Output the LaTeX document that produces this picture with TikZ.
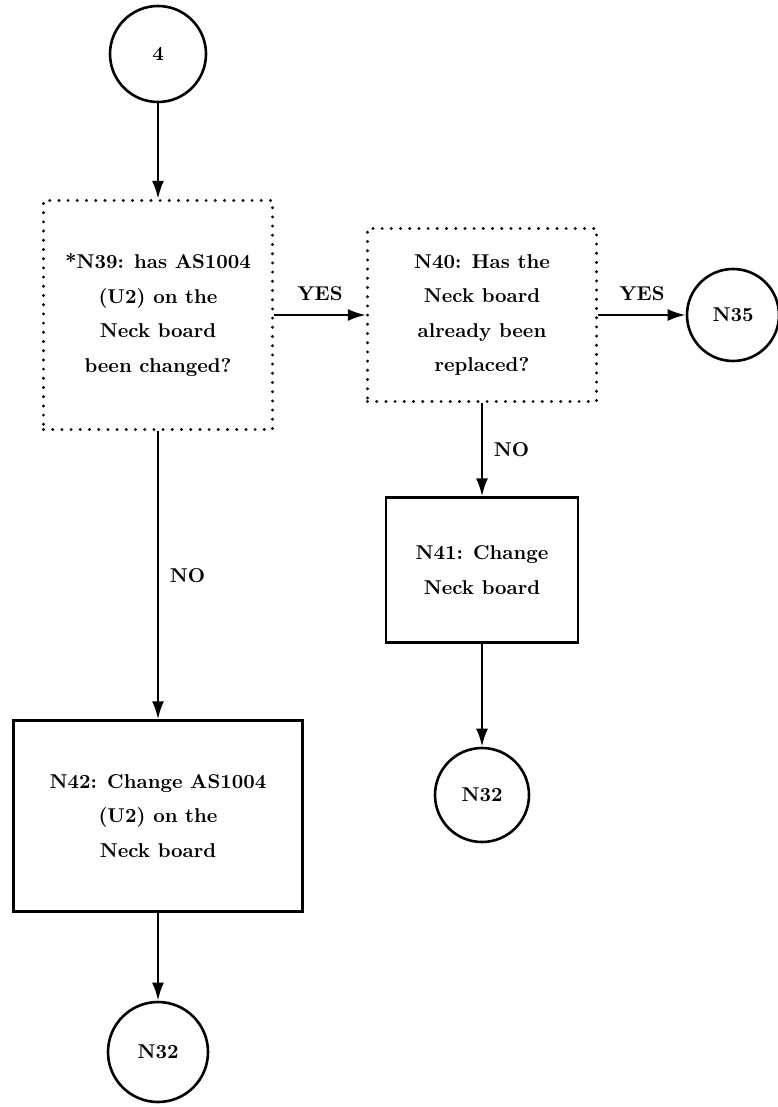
\documentclass[tikz,border=0pt]{standalone}
\usetikzlibrary{arrows.meta}
\begin{document}
\begin{tikzpicture}[x=0.5pt,y=-0.5pt,
  every node/.style={font=\bfseries\fontsize{10}{17.3}\selectfont},
  term/.style={draw,circle,line width=1.3pt,minimum size=48pt,inner sep=0pt},
  query/.style={draw,line width=1.6pt,dash pattern=on 0pt off 4.6pt,line cap=round,align=center,inner sep=0pt},
  task/.style={draw,line width=1.1pt,align=center,inner sep=0pt},
  flow/.style={line width=1.3pt,-{Latex[length=9pt,width=6pt]}}]
\useasboundingbox (0,0) rectangle (777,1107);
\node[term] (c4) at (158,54) {4};
\node[query,minimum width=114.5pt,minimum height=114.5pt] (n39) at (158,315) {*N39: has AS1004\\(U2) on the\\Neck board\\been changed?};
\node[query,minimum width=114.5pt,minimum height=86.5pt] (n40) at (482,315) {N40: Has the\\Neck board\\already been\\replaced?};
\node[term,minimum size=46pt] (c35) at (733,315) {N35};
\node[task,minimum width=96pt,minimum height=72.5pt] (n41) at (482,570) {N41: Change\\Neck board};
\node[term,minimum size=47pt] (c32b) at (482,795) {N32};
\node[task,minimum width=144.5pt,minimum height=95.5pt] (n42) at (158,816) {N42: Change AS1004\\(U2) on the\\Neck board};
\node[term,minimum size=50pt] (c32a) at (158,1052) {N32};
\draw[flow] (c4) -- (n39);
\draw[flow] (n39) -- node[above=3pt] {YES} (n40);
\draw[flow] (n40) -- node[above=3pt] {YES} (c35);
\draw[flow] (n39) -- node[right=2pt] {NO} (n42);
\draw[flow] (n40) -- node[right=2pt] {NO} (n41);
\draw[flow] (n41) -- (c32b);
\draw[flow] (n42) -- (c32a);
\end{tikzpicture}
\end{document}
